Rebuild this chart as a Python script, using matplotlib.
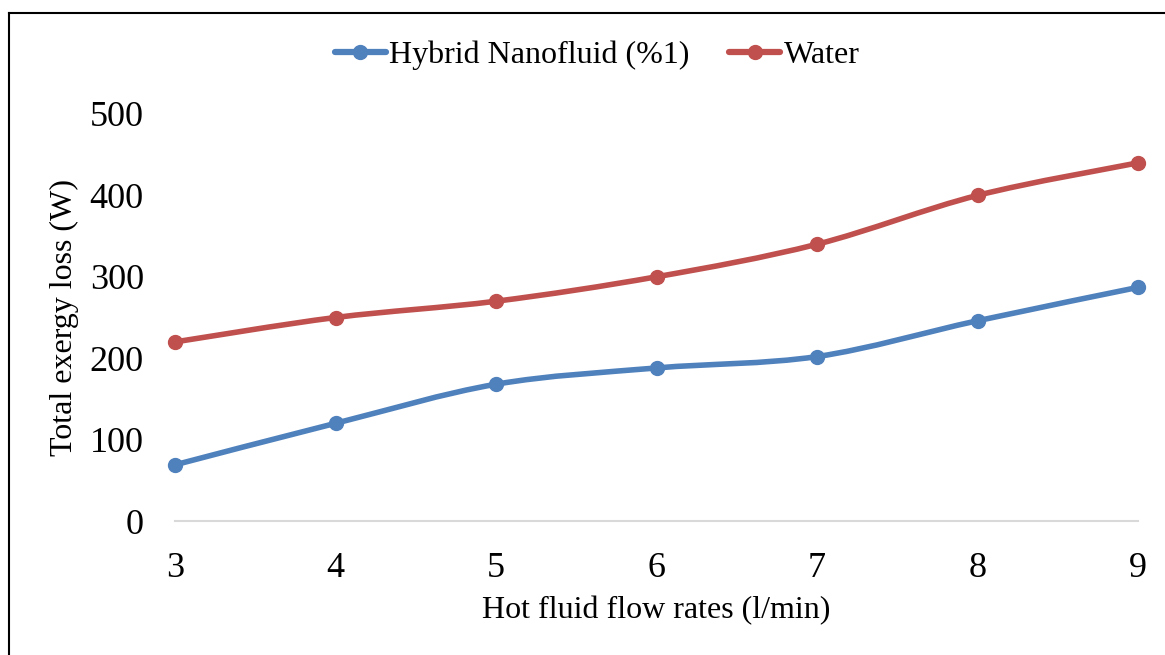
import numpy as np
import matplotlib.pyplot as plt
from matplotlib.path import Path
from matplotlib.patches import PathPatch
from matplotlib.lines import Line2D

flow_rates = [3, 4, 5, 6, 7, 8, 9]
hybrid = [69, 120, 168, 188, 202, 246, 287]
water = [220, 250, 270, 300, 340, 400, 440]
y_ticks = [0, 100, 200, 300, 400, 500]

BLUE = "#4F81BD"
RED = "#C0504D"

plt.rcParams["font.family"] = ["Liberation Serif", "DejaVu Serif"]


def smooth_path(x, y):
    # Catmull-Rom style bezier through the data points (like Excel's smoothed line)
    pts = np.column_stack([x, y]).astype(float)
    n = len(pts)
    verts = [pts[0]]
    codes = [Path.MOVETO]
    for i in range(n - 1):
        p0 = pts[max(i - 1, 0)]
        p1 = pts[i]
        p2 = pts[i + 1]
        p3 = pts[min(i + 2, n - 1)]
        c1 = p1 + (p2 - p0) / 6.0
        c2 = p2 - (p3 - p1) / 6.0
        verts += [c1, c2, p2]
        codes += [Path.CURVE4] * 3
    return Path(verts, codes)


fig = plt.figure(figsize=(11.65, 6.55), dpi=100)
ax = fig.add_axes([175 / 1165, 1 - 521 / 655, (1138 - 175) / 1165, (521 - 114) / 655])

for vals, color in [(hybrid, BLUE), (water, RED)]:
    ax.add_patch(PathPatch(smooth_path(flow_rates, vals), fill=False, edgecolor=color,
                           lw=4, capstyle="round", joinstyle="round", zorder=3))
    ax.plot(flow_rates, vals, linestyle="none", marker="o", markersize=10,
            color=color, zorder=4, clip_on=False)

ax.set_xlim(3, 9)
ax.set_ylim(0, 500)
ax.set_xticks(flow_rates)
ax.set_yticks(y_ticks)
ax.tick_params(axis="both", length=0, labelsize=26)
ax.tick_params(axis="x", pad=22)
ax.tick_params(axis="y", pad=22.5)

for side in ["top", "right", "left"]:
    ax.spines[side].set_visible(False)
ax.spines["bottom"].set_color("#D9D9D9")
ax.spines["bottom"].set_linewidth(1.5)

ax.set_xlabel("Hot fluid flow rates (l/min)", fontsize=23, labelpad=8)
ax.set_ylabel("Total exergy loss (W)", fontsize=23)
ax.yaxis.set_label_coords(-0.1, 0.5)

handles = [
    Line2D([], [], color=BLUE, lw=4.5, marker="o", markersize=10, solid_capstyle="round"),
    Line2D([], [], color=RED, lw=4.5, marker="o", markersize=10, solid_capstyle="round"),
]
fig.legend(handles, ["Hybrid Nanofluid (%1)", "Water"], loc="center",
           bbox_to_anchor=(597 / 1165, 1 - 55 / 655), ncol=2, frameon=False,
           fontsize=23, handlelength=1.6, handletextpad=0.1, columnspacing=1.25)

# outer chart border (left and top visible in the original)
fig.add_artist(Line2D([9 / 1165, 9 / 1165], [0, 1 - 13 / 655], color="black", lw=1.5,
                      transform=fig.transFigure))
fig.add_artist(Line2D([9 / 1165, 1], [1 - 13 / 655, 1 - 13 / 655], color="black", lw=1.5,
                      transform=fig.transFigure))

fig.savefig("out.png", dpi=100)
